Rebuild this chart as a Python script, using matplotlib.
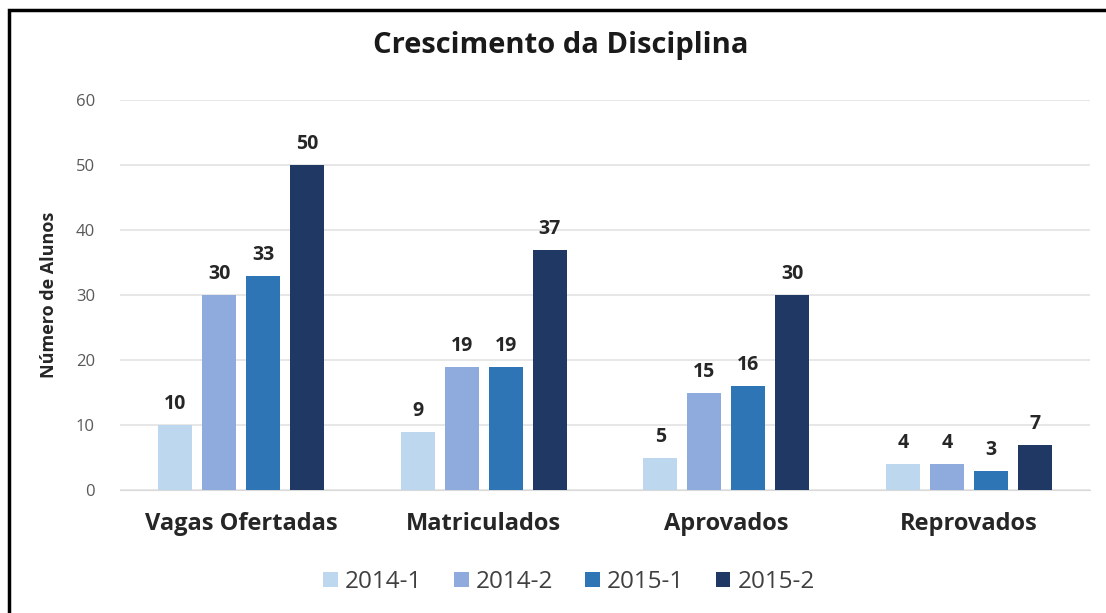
import matplotlib
matplotlib.use("Agg")
import matplotlib.pyplot as plt
from matplotlib.patches import Rectangle
import numpy as np

categories = ["Vagas Ofertadas", "Matriculados", "Aprovados", "Reprovados"]
series_names = ["2014-1", "2014-2", "2015-1", "2015-2"]
v2014_1 = [10, 9, 5, 4]
v2014_2 = [30, 19, 15, 4]
v2015_1 = [33, 19, 16, 3]
v2015_2 = [50, 37, 30, 7]
colors = ["#BDD7EE", "#8FAADC", "#2E75B6", "#203864"]
yticks = [0, 10, 20, 30, 40, 50, 60]

plt.rcParams['font.family'] = ['Open Sans', 'DejaVu Sans']

fig = plt.figure(figsize=(11.06, 6.13), dpi=100)
ax = fig.add_axes([120/1106, 1-490/613, 970/1106, 390/613])

x = np.arange(len(categories))
pitch = 0.181
width = 0.14
all_series = [v2014_1, v2014_2, v2015_1, v2015_2]
for i, (vals, name, c) in enumerate(zip(all_series, series_names, colors)):
    pos = x + (i - 1.5) * pitch
    ax.bar(pos, vals, width=width, color=c, label=name, zorder=3)
    for xp, v in zip(pos, vals):
        ax.annotate(str(v), (xp, v), xytext=(0, 11.5), textcoords='offset points',
                    ha='center', va='baseline', fontsize=14,
                    fontweight='bold', color='#262626')

ax.set_xlim(-0.5, 3.5)
ax.set_ylim(0, 60)
ax.set_yticks(yticks)
ax.yaxis.grid(True, color='#E3E3E3', linewidth=1.2, zorder=0)
ax.set_axisbelow(True)
for s in ax.spines.values():
    s.set_visible(False)
ax.spines['bottom'].set_visible(True)
ax.spines['bottom'].set_color('#D9D9D9')
ax.tick_params(axis='both', length=0)
ax.tick_params(axis='y', labelsize=12, labelcolor='#595959', pad=18)
ax.set_xticks(x)
ax.set_xticklabels(categories, fontsize=17, fontweight='bold', color='#262626')
ax.tick_params(axis='x', pad=16)
ax.set_ylabel("Número de Alunos", fontsize=13, fontweight='bold', color='#262626', labelpad=13)

fig.text(561/1106, 1-45/613, "Crescimento da Disciplina", ha='center', va='center',
         fontsize=21, fontweight='bold', color='#1a1a1a')

leg = fig.legend(loc='center', bbox_to_anchor=(569/1106, 1-582/613), ncol=4, frameon=False,
                 fontsize=17.5, handlelength=0.6, handleheight=0.6, handletextpad=0.3,
                 columnspacing=1.3)
for t in leg.get_texts():
    t.set_color('#404040')

fig.patches.append(Rectangle((9/1106, -0.1), 1.2, 1-10/613+0.1, transform=fig.transFigure,
                             fill=False, edgecolor='black', linewidth=2.5, zorder=10))

fig.savefig("out.png", dpi=100)
